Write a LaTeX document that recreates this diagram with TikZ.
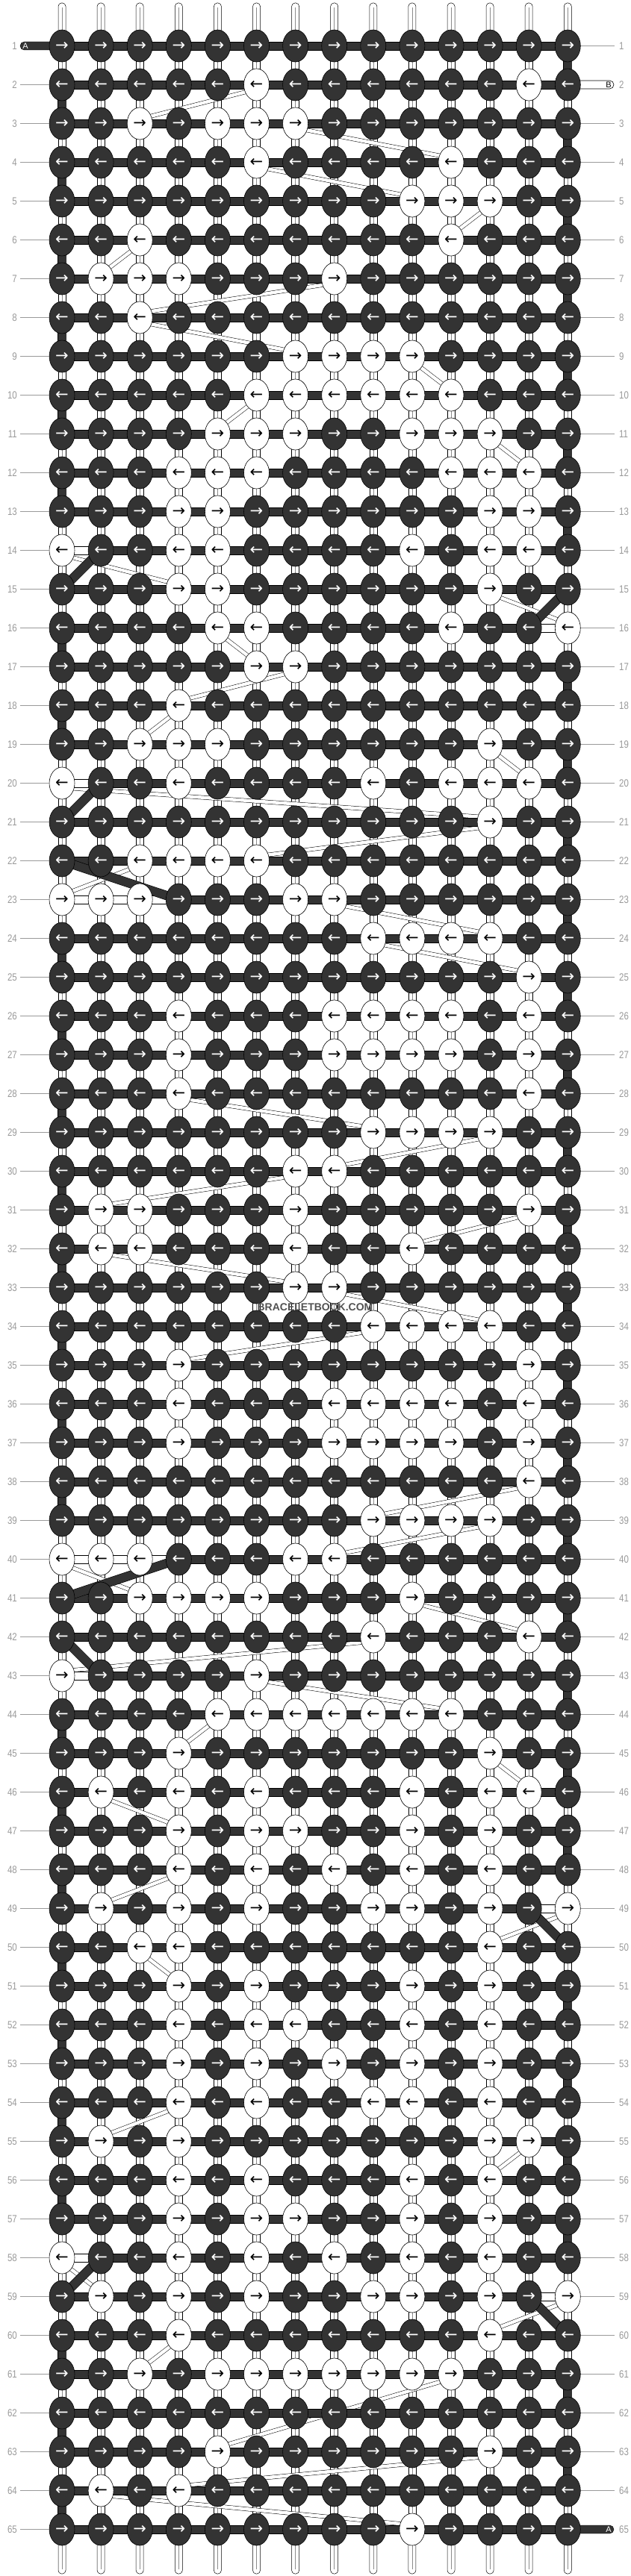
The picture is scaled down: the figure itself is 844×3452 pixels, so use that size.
\documentclass[tikz,border=0pt]{standalone}
\usepackage{fontspec}
\setmainfont{Liberation Sans}
\newfontfamily\arrowfont{DejaVu Sans}
\usetikzlibrary{shapes.geometric}
\pgfdeclarelayer{bgl}
\pgfdeclarelayer{vstr}
\pgfdeclarelayer{bandl}
\pgfdeclarelayer{bars}
\pgfdeclarelayer{top}
\pgfsetlayers{bgl,vstr,bandl,bars,main,top}
\definecolor{dk}{HTML}{333333}
\definecolor{lbl}{HTML}{9A9A9A}
\tikzset{
  knot/.style={ellipse, draw=black, line width=0.6pt, minimum width=34pt, minimum height=43pt, inner sep=0pt, font=\arrowfont\fontsize{21}{21}\selectfont},
  dknot/.style={knot, fill=dk, text=white},
  wknot/.style={knot, fill=white, text=black},
  vseg/.style={fill=white, draw=black, line width=0.5pt},
  vmid/.style={draw=black!45, line width=0.5pt},
  band/.style={draw=black, line width=0.5pt, double=white, double distance=4.5pt},
  trans/.style={draw=black, line width=0.6pt, double=dk, double distance=11pt},
  dbar/.style={fill=dk, draw=black, line width=0.4pt},
  wbar/.style={fill=white, draw=black, line width=0.6pt},
  lblline/.style={draw=lbl, line width=0.8pt},
  lbltext/.style={text=lbl, font=\fontsize{14}{14}\selectfont, inner sep=0pt},
  endtext/.style={font=\fontsize{11}{11}\selectfont, inner sep=0pt}
}
\begin{document}
\begin{tikzpicture}[x=1pt,y=-1pt]
\useasboundingbox (0,0) rectangle (844,3452);
\begin{pgfonlayer}{bgl}
\fill[white] (0,0) rectangle (844,3452);
\end{pgfonlayer}
% white knots
\foreach \r/\cl in {2/{6,13},3/{3,5,6,7},4/{6,11},5/{10,11,12},6/{3,11},7/{2,3,4,8},8/{3},9/{7,8,9,10},10/{6,7,8,9,10,11},11/{5,6,7,10,11,12},12/{4,5,6,11,12,13},13/{4,5,12,13},14/{1,4,5,10,12,13},15/{4,5,12},16/{5,6,11,14},17/{6,7},18/{4},19/{3,4,5,12},20/{1,4,9,11,12,13},21/{12},22/{3,4,5,6},23/{1,2,3,7,8},24/{9,10,11,12},25/{13},26/{4,8,9,10,11,13},27/{4,8,9,10,11,13},28/{4,13},29/{9,10,11,12},30/{7,8},31/{2,3,7,13},32/{2,3,7,10},33/{7,8},34/{9,10,11,12},35/{4,13},36/{4,8,9,10,11,13},37/{4,8,9,10,11,13},38/{13},39/{9,10,11,12},40/{1,2,3,7,8},41/{3,4,5,6,10},42/{9,13},43/{1,6},44/{5,6,7,8,9,10,11},45/{4,12},46/{2,4,6,10,12,13},47/{4,6,7,10,12},48/{4,6,8,10,12},49/{2,4,6,9,10,12,14},50/{3,4,12},51/{4,6,10,12},52/{4,6,7,10,12},53/{4,6,8,10,12},54/{4,6,9,10,12},55/{2,4,12,13},56/{4,6,10,12},57/{4,6,7,10,12},58/{1,4,6,8,10,12},59/{2,4,6,9,10,12,14},60/{4,12},61/{3,5,6,7,8,9,10,11},63/{5,12},64/{2,4},65/{10}}{
  \foreach \c in \cl {\expandafter\gdef\csname W-\r-\c\endcsname{1}}
}
% knots
\foreach \r in {1,...,65}{
  \foreach \c in {1,...,14}{
    \pgfmathsetmacro\xx{83+(\c-1)*52.1}
    \pgfmathsetmacro\yy{61.5+(\r-1)*52}
    \ifodd\r\relax\def\arr{→}\else\def\arr{←}\fi
    \ifcsname W-\r-\c\endcsname
      \node[wknot] (k-\r-\c) at (\xx,\yy) {\arr};
    \else
      \node[dknot] (k-\r-\c) at (\xx,\yy) {\arr};
    \fi
  }
}
% vertical strings
\begin{pgfonlayer}{vstr}
\foreach \c in {1,...,14}{
  \pgfmathsetmacro\xx{83+(\c-1)*52.1}
  \draw[vseg, rounded corners=4.5pt] (\xx-5,4) rectangle (\xx+5,61.5);
  \draw[vmid] (\xx,10) -- (\xx,61.5);
  \draw[vseg, rounded corners=4.5pt] (\xx-5,3389.5) rectangle (\xx+5,3449);
  \draw[vmid] (\xx,3389.5) -- (\xx,3443);
  \foreach \r in {1,...,64}{
    \pgfmathtruncatemacro\rn{\r+1}
    \draw[vseg] ([xshift=-5pt]k-\r-\c.center) rectangle ([xshift=5pt]k-\rn-\c.center);
    \draw[vmid] (k-\r-\c.center) -- (k-\rn-\c.center);
  }
}
\end{pgfonlayer}
% B thread bands
\begin{pgfonlayer}{bandl}
\foreach \ra/\ca/\rb/\cb in {2/6/3/3,3/7/4/11,4/6/5/10,5/12/6/11,6/3/7/2,7/8/8/3,8/3/9/7,9/10/10/11,10/6/11/5,11/12/12/13,14/1/15/4,15/12/16/14,16/5/17/6,17/7/18/4,18/4/19/3,19/12/20/13,20/1/21/12,21/12/22/6,22/3/23/1,23/8/24/12,24/9/25/13,28/4/29/9,29/12/30/8,30/7/31/2,31/13/32/10,32/2/33/7,33/8/34/12,34/9/35/4,38/13/39/9,39/12/40/8,40/1/41/3,41/10/42/13,42/9/43/1,43/6/44/11,44/5/45/4,45/12/46/13,46/2/47/4,48/4/49/2,49/14/50/12,50/3/51/4,54/4/55/2,55/13/56/12,58/1/59/2,59/14/60/12,60/4/61/3,61/11/63/5,63/12/64/4,64/2/65/10}{
  \draw[band] ([yshift=-6pt]k-\ra-\ca.center) -- ([yshift=6pt]k-\rb-\cb.center);
}
\end{pgfonlayer}
% horizontal bars and turns
\begin{pgfonlayer}{bars}
\foreach \r/\a/\b in {14/2/14,16/1/13,20/2/14,23/4/14,40/4/14,43/2/14,49/1/13,58/2/14,59/1/13}{
  \expandafter\xdef\csname HA-\r\endcsname{\a}
  \expandafter\xdef\csname HB-\r\endcsname{\b}
}
\foreach \r/\a/\b in {14/1/2,16/13/14,20/1/2,23/1/4,40/1/4,43/1/2,49/13/14,58/1/2,59/13/14}{
  \draw[wbar] ([yshift=5.5pt]k-\r-\a.center) rectangle ([yshift=-5.5pt]k-\r-\b.center);
}
\foreach \r in {1,...,65}{
  \ifcsname HA-\r\endcsname
    \edef\ha{\csname HA-\r\endcsname}\edef\hb{\csname HB-\r\endcsname}
  \else
    \def\ha{1}\def\hb{14}
  \fi
  \fill[dbar] ([yshift=5.5pt]k-\r-\ha.center) rectangle ([yshift=-5.5pt]k-\r-\hb.center);
}
\foreach \r in {14,15,20,22,40,42,49,58,59}{\expandafter\gdef\csname T-\r\endcsname{1}}
\foreach \r in {1,...,64}{
  \pgfmathtruncatemacro\rn{\r+1}
  \ifcsname T-\r\endcsname\else
    \ifodd\r\relax\def\cc{14}\else\def\cc{1}\fi
    \draw[trans] (k-\r-\cc.center) -- (k-\rn-\cc.center);
  \fi
}
\foreach \r/\a/\b in {14/2/1,15/14/13,20/2/1,22/1/4,40/4/1,42/1/2,49/13/14,58/2/1,59/13/14}{
  \pgfmathtruncatemacro\rn{\r+1}
  \draw[trans] (k-\r-\a.center) -- (k-\rn-\b.center);
}
% end strings
\draw[dbar, rounded corners=5.5pt] (27,56) rectangle (90,67);
\draw[dbar, rounded corners=5.5pt] (750,3384) rectangle (822,3395);
\draw[wbar, rounded corners=5.5pt] (750,108) rectangle (822,119);
\end{pgfonlayer}
% labels
\node[endtext, text=white] (endA1) at (34,61.5) {A};
\node[endtext, text=white] (endA2) at (815,3389.5) {A};
\node[endtext, text=black] (endB) at (815,113.5) {B};
\foreach \r in {1,...,65}{
  \pgfmathsetmacro\yy{61.5+(\r-1)*52}
  \node[lbltext, anchor=east] (ll-\r) at (23,\yy) {\scalebox{0.82}[1]{\r}};
  \node[lbltext, anchor=west] (lr-\r) at (829,\yy) {\scalebox{0.82}[1]{\r}};
  \ifnum\r>1 \draw[lblline] (27,\yy) -- (k-\r-1.west);\fi
  \ifnum\r=2 \else\ifnum\r=65 \else \draw[lblline] (k-\r-14.east) -- (823,\yy);\fi\fi
}
\begin{pgfonlayer}{top}
\node[font=\bfseries\fontsize{14}{14}\selectfont, text=dk!85, inner sep=0pt] (wm) at (422,1752) {BRACELETBOOK.COM};
\end{pgfonlayer}
\end{tikzpicture}
\end{document}
